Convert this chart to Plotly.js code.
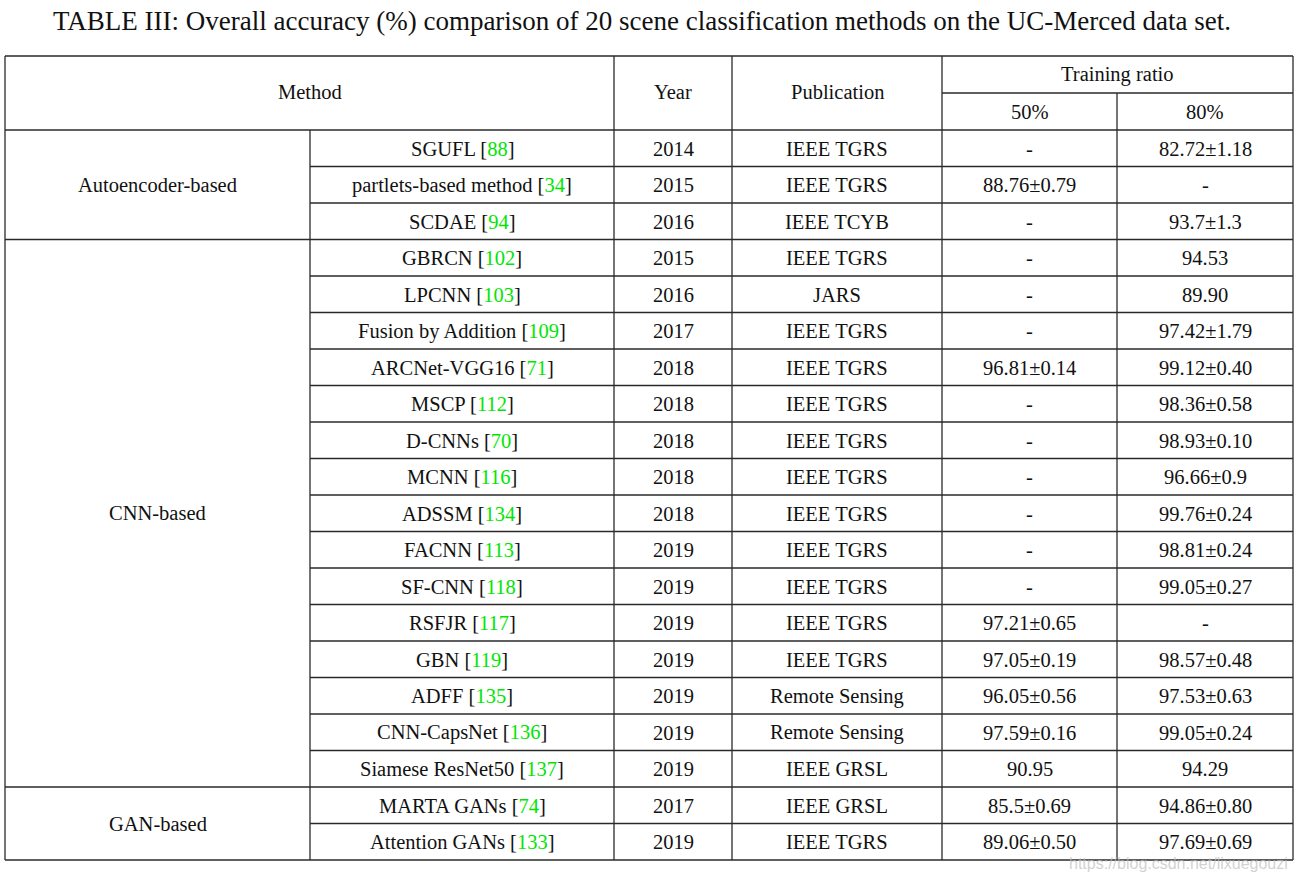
<!DOCTYPE html>
<html>
<head>
<meta charset="utf-8">
<script src="https://cdn.plot.ly/plotly-3.0.1.min.js"></script>
<style>html,body{margin:0;padding:0;background:#fff;}#chart{width:1301px;height:875px;}</style>
</head>
<body>
<div id="chart"></div>
<script>
const titleText = 'TABLE III: Overall accuracy (%) comparison of 20 scene classification methods on the UC-Merced data set.';
const headers = ['Method', 'Year', 'Publication', 'Training ratio'];
const ratioLabels = ['50%', '80%'];
const groups = ['Autoencoder-based', 'CNN-based', 'GAN-based'];
const groupSizes = [3, 15, 2];
const methods = ['SGUFL', 'partlets-based method', 'SCDAE', 'GBRCN', 'LPCNN', 'Fusion by Addition', 'ARCNet-VGG16', 'MSCP', 'D-CNNs', 'MCNN', 'ADSSM', 'FACNN', 'SF-CNN', 'RSFJR', 'GBN', 'ADFF', 'CNN-CapsNet', 'Siamese ResNet50', 'MARTA GANs', 'Attention GANs'];
const refs = [88, 34, 94, 102, 103, 109, 71, 112, 70, 116, 134, 113, 118, 117, 119, 135, 136, 137, 74, 133];
const years = [2014, 2015, 2016, 2015, 2016, 2017, 2018, 2018, 2018, 2018, 2018, 2019, 2019, 2019, 2019, 2019, 2019, 2019, 2017, 2019];
const pubs = ['IEEE TGRS', 'IEEE TGRS', 'IEEE TCYB', 'IEEE TGRS', 'JARS', 'IEEE TGRS', 'IEEE TGRS', 'IEEE TGRS', 'IEEE TGRS', 'IEEE TGRS', 'IEEE TGRS', 'IEEE TGRS', 'IEEE TGRS', 'IEEE TGRS', 'IEEE TGRS', 'Remote Sensing', 'Remote Sensing', 'IEEE GRSL', 'IEEE GRSL', 'IEEE TGRS'];
const acc50 = ['-', '88.76±0.79', '-', '-', '-', '-', '96.81±0.14', '-', '-', '-', '-', '-', '-', '97.21±0.65', '97.05±0.19', '96.05±0.56', '97.59±0.16', '90.95', '85.5±0.69', '89.06±0.50'];
const acc80 = ['82.72±1.18', '-', '93.7±1.3', '94.53', '89.90', '97.42±1.79', '99.12±0.40', '98.36±0.58', '98.93±0.10', '96.66±0.9', '99.76±0.24', '98.81±0.24', '99.05±0.27', '-', '98.57±0.48', '97.53±0.63', '99.05±0.24', '94.29', '94.86±0.80', '97.69±0.69'];
const watermark = 'https://blog.csdn.net/lixuegouzi';

(function () {
// ---- layout geometry (pixel coordinate system) ----
const colX = [5, 310, 614, 732, 942, 1117, 1293];
const yTop = 56, headMid = 93, headBot = 130;
const nRows = methods.length;
const rowH = (860 - headBot) / nRows;
const LINE = {color: '#2a2a2a', width: 1.3};
const FONT = {family: '"Liberation Serif", "Times New Roman", serif', size: 20.5, color: '#111'};
const GREEN = '#00e600';

const shapes = [];
const ann = [];
function hline(y, x0, x1) { shapes.push({type: 'line', xref: 'x', yref: 'y', x0: x0, x1: x1, y0: y, y1: y, line: LINE}); }
function vline(x, y0, y1) { shapes.push({type: 'line', xref: 'x', yref: 'y', x0: x, x1: x, y0: y0, y1: y1, line: LINE}); }
function text(t, x, y, font) { ann.push({text: t, x: x, y: y, xref: 'x', yref: 'y', showarrow: false, xanchor: 'center', yanchor: 'middle', font: font || FONT}); }

const yBot = headBot + rowH * nRows;
hline(yTop, colX[0], colX[6]);
hline(headBot, colX[0], colX[6]);
hline(headMid, colX[4], colX[6]);
vline(colX[0], yTop, yBot);
vline(colX[2], yTop, yBot);
vline(colX[3], yTop, yBot);
vline(colX[4], yTop, yBot);
vline(colX[6], yTop, yBot);
vline(colX[5], headMid, yBot);
vline(colX[1], headBot, yBot);

text(headers[0], (colX[0] + colX[2]) / 2, (yTop + headBot) / 2 - 1.5);
text(headers[1], (colX[2] + colX[3]) / 2, (yTop + headBot) / 2 - 1.5);
text(headers[2], (colX[3] + colX[4]) / 2, (yTop + headBot) / 2 - 1.5);
text(headers[3], (colX[4] + colX[6]) / 2, (yTop + headMid) / 2);
text(ratioLabels[0], (colX[4] + colX[5]) / 2, (headMid + headBot) / 2 + 0.5);
text(ratioLabels[1], (colX[5] + colX[6]) / 2, (headMid + headBot) / 2 + 0.5);

let r = 0;
groups.forEach((g, gi) => {
  const y0 = headBot + r * rowH;
  const y1 = y0 + groupSizes[gi] * rowH;
  text(g, (colX[0] + colX[1]) / 2, (y0 + y1) / 2);
  hline(y1, colX[0], colX[6]);
  for (let k = 0; k < groupSizes[gi]; k++) {
    const i = r + k;
    const yc = headBot + (i + 0.5) * rowH + 0.5;
    if (k < groupSizes[gi] - 1) hline(headBot + (i + 1) * rowH, colX[1], colX[6]);
    text(methods[i] + ' [<span style="color:' + GREEN + '">' + refs[i] + '</span>]', (colX[1] + colX[2]) / 2, yc);
    text(String(years[i]), (colX[2] + colX[3]) / 2, yc);
    text(pubs[i], (colX[3] + colX[4]) / 2, yc);
    text(acc50[i], (colX[4] + colX[5]) / 2, yc);
    text(acc80[i], (colX[5] + colX[6]) / 2, yc);
  }
  r += groupSizes[gi];
});

text(titleText, 642, 21, {family: FONT.family, size: 27, color: '#111'});
ann.push({text: watermark, x: 1290, y: 863, xref: 'x', yref: 'y', showarrow: false, xanchor: 'right', yanchor: 'middle',
  font: {family: 'Arial, "Liberation Sans", sans-serif', size: 16, color: 'rgba(190,190,190,0.7)'}});

const layout = {
  width: 1301, height: 875,
  margin: {l: 0, r: 0, t: 0, b: 0},
  paper_bgcolor: '#fff', plot_bgcolor: '#fff',
  xaxis: {range: [0, 1301], visible: false, fixedrange: true},
  yaxis: {range: [875, 0], visible: false, fixedrange: true},
  showlegend: false,
  shapes: shapes,
  annotations: ann
};
Plotly.newPlot('chart', [{type: 'scatter', x: [], y: [], hoverinfo: 'skip'}], layout, {staticPlot: true, displayModeBar: false});
})();
</script>
</body>
</html>
